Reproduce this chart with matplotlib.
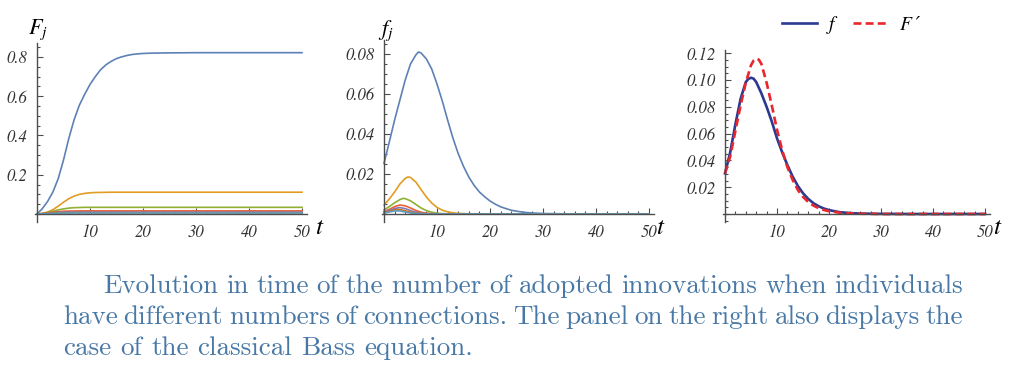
import matplotlib
matplotlib.use("Agg")
import matplotlib.pyplot as plt
from matplotlib.ticker import MultipleLocator
from matplotlib.lines import Line2D

plt.rcParams["mathtext.fontset"] = "stix"

W, H = 1024, 388

# ----------------------------------------------------------------------------- data
# left panel: F_j(t)
T_F1 = [0, 1, 2, 3, 4, 5, 6, 7, 8, 9, 10, 11, 12, 13, 14, 15, 16, 17, 18, 19, 20, 22, 25, 30, 40, 50]
F1 = [0, 0.027, 0.064, 0.112, 0.18, 0.275, 0.385, 0.48, 0.555, 0.61, 0.66, 0.70, 0.735, 0.76, 0.778,
      0.792, 0.801, 0.808, 0.813, 0.816, 0.818, 0.820, 0.821, 0.822, 0.822, 0.822]
T_F2 = [0, 1, 2, 3, 4, 5, 6, 7, 8, 9, 10, 11, 12, 14, 17, 20, 30, 50]
F2 = [0, 0.003, 0.010, 0.022, 0.040, 0.060, 0.078, 0.091, 0.100, 0.105, 0.108, 0.1095, 0.110,
      0.111, 0.111, 0.111, 0.111, 0.111]
T_F3 = [0, 1, 2, 3, 4, 5, 6, 7, 8, 9, 12, 20, 50]
F3 = [0, 0.002, 0.007, 0.014, 0.021, 0.026, 0.030, 0.032, 0.033, 0.034, 0.034, 0.034, 0.034]
T_F4 = [0, 1, 2, 3, 4, 5, 6, 7, 8, 50]
F4 = [0, 0.002, 0.005, 0.009, 0.012, 0.014, 0.015, 0.0155, 0.016, 0.016]
T_F5 = [0, 1, 2, 3, 4, 5, 6, 7, 50]
F5 = [0, 0.001, 0.003, 0.006, 0.008, 0.009, 0.0095, 0.010, 0.010]
T_F6 = [0, 1, 2, 3, 4, 5, 6, 7, 50]
F6 = [0, 0.001, 0.0025, 0.004, 0.0055, 0.0063, 0.0068, 0.007, 0.007]
T_F7 = [0, 1, 2, 3, 4, 5, 6, 7, 50]
F7 = [0, 0.0007, 0.0018, 0.003, 0.004, 0.0045, 0.0048, 0.005, 0.005]

# middle panel: f_j(t)
T_f1 = [0, 1, 2, 3, 4, 5, 6, 6.5, 7, 8, 9, 10, 11, 12, 13, 14, 15, 16, 17, 18, 19, 20, 21, 22,
        23, 24, 25, 26, 27, 28, 30, 35, 40, 50]
f1 = [0.0253, 0.036, 0.047, 0.057, 0.067, 0.075, 0.0795, 0.0810, 0.0805, 0.0775, 0.0725, 0.065,
      0.0565, 0.047, 0.038, 0.0302, 0.0238, 0.0185, 0.0143, 0.011, 0.0086, 0.0065, 0.0049, 0.0036,
      0.0027, 0.0019, 0.0014, 0.0010, 0.0007, 0.0005, 0.00025, 0.00005, 0.0, 0.0]
T_f2 = [0, 1, 2, 3, 4, 4.5, 5, 6, 7, 8, 9, 10, 11, 12, 13, 14, 16, 20, 50]
f2 = [0.0045, 0.0075, 0.011, 0.0150, 0.0178, 0.0185, 0.0183, 0.016, 0.0122, 0.0085, 0.0055,
      0.0033, 0.0019, 0.0011, 0.0006, 0.0003, 0.0001, 0.0, 0.0]
T_f3 = [0, 1, 2, 3, 3.6, 4, 5, 6, 7, 8, 9, 10, 11, 13, 50]
f3 = [0.002, 0.0037, 0.0056, 0.0072, 0.0078, 0.0077, 0.0066, 0.0048, 0.003, 0.0017, 0.0009,
      0.0004, 0.0002, 0.0, 0.0]
T_f4 = [0, 1, 2, 3, 4, 5, 6, 7, 8, 9, 11, 50]
f4 = [0.0012, 0.0023, 0.0037, 0.0045, 0.0041, 0.0030, 0.0018, 0.0009, 0.0004, 0.0002, 0.0, 0.0]
T_f5 = [0, 1, 2, 3, 4, 5, 6, 7, 8, 10, 50]
f5 = [0.0009, 0.0017, 0.0028, 0.0032, 0.0027, 0.0017, 0.0009, 0.0004, 0.0002, 0.0, 0.0]
T_f6 = [0, 1, 2, 3, 4, 5, 6, 7, 9, 50]
f6 = [0.0007, 0.0013, 0.0021, 0.0022, 0.0016, 0.0009, 0.0004, 0.0002, 0.0, 0.0]
T_f7 = [0, 1, 2, 3, 4, 5, 6, 8, 50]
f7 = [0.0005, 0.001, 0.0015, 0.0015, 0.001, 0.0005, 0.0002, 0.0, 0.0]

# right panel: f vs F' (classical Bass)
T_BASS_f = [0, 1, 2, 3, 4, 4.5, 5, 5.5, 6, 7, 8, 9, 10, 11, 12, 13, 14, 15, 16, 17, 18, 19, 20,
            22, 24, 26, 30, 35, 50]
BASS_f = [0.0303, 0.046, 0.067, 0.086, 0.0985, 0.1008, 0.1017, 0.1010, 0.0985, 0.090, 0.080,
          0.069, 0.0565, 0.046, 0.0365, 0.028, 0.021, 0.0155, 0.0113, 0.0081, 0.0058, 0.0041,
          0.0029, 0.0014, 0.0007, 0.0003, 0.0001, 0.0, 0.0]
T_BASS_dF = [0, 1, 2, 3, 4, 5, 5.5, 6, 6.5, 7, 8, 9, 10, 11, 12, 13, 14, 15, 16, 17, 18, 19, 20,
             22, 24, 26, 30, 50]
BASS_dF = [0.0303, 0.043, 0.062, 0.081, 0.098, 0.111, 0.1145, 0.116, 0.1152, 0.112, 0.098, 0.081,
           0.063, 0.0475, 0.035, 0.0255, 0.018, 0.0128, 0.009, 0.0063, 0.0044, 0.003, 0.0021,
           0.001, 0.0005, 0.0002, 0.0, 0.0]

X_TICKS = [10, 20, 30, 40, 50]
Y_TICKS_1 = [0.2, 0.4, 0.6, 0.8]
Y_TICKS_2 = [0.02, 0.04, 0.06, 0.08]
Y_TICKS_3 = [0.02, 0.04, 0.06, 0.08, 0.10, 0.12]

CAPTION = ["Evolution in time of the number of adopted innovations when individuals",
           "have different numbers of connections. The panel on the right also displays the",
           "case of the classical Bass equation."]

# Mathematica default palette
COLS = ["#5E81B5", "#E19C24", "#8FB032", "#EB6235", "#8778B3", "#C56E1A", "#5D9EC7"]
AXC = "#4d4d4d"
TICK_FONT = dict(family="STIXGeneral", style="italic", size=12, color="#333333")

fig = plt.figure(figsize=(W / 100, H / 100), dpi=100)


def add_axes_px(t0, ppu_x, y0, ppu_y, xlim, ylim):
    left = t0 + xlim[0] * ppu_x
    right = t0 + xlim[1] * ppu_x
    top = y0 - ylim[1] * ppu_y
    bottom = y0 - ylim[0] * ppu_y
    ax = fig.add_axes([left / W, 1 - bottom / H, (right - left) / W, (bottom - top) / H])
    ax.set_xlim(*xlim)
    ax.set_ylim(*ylim)
    ax.patch.set_alpha(0)
    for s in ("top", "right"):
        ax.spines[s].set_visible(False)
    for s in ("left", "bottom"):
        ax.spines[s].set_position(("data", 0))
        ax.spines[s].set_color(AXC)
        ax.spines[s].set_linewidth(1.0)
    ax.tick_params(which="both", direction="in", color=AXC, width=0.8)
    ax.tick_params(which="major", length=4.5)
    ax.tick_params(which="minor", length=2.5)
    ax.tick_params(axis="x", pad=7)
    ax.tick_params(axis="y", pad=7)
    ax.set_xticks(X_TICKS, [str(v) for v in X_TICKS], **TICK_FONT)
    ax.xaxis.set_minor_locator(MultipleLocator(2))
    return ax


# ----------------------------------------------------------------------------- left panel
ax1 = add_axes_px(37, 5.3, 214, 196.25, (-0.3, 51), (-0.04, 0.87))
for (tt, yy), c in zip([(T_F1, F1), (T_F2, F2), (T_F3, F3), (T_F4, F4), (T_F5, F5),
                        (T_F6, F6), (T_F7, F7)], COLS):
    ax1.plot(tt, yy, color=c, lw=1.2, clip_on=False)
ax1.set_yticks(Y_TICKS_1, ["0.2", "0.4", "0.6", "0.8"], **TICK_FONT)
ax1.yaxis.set_minor_locator(MultipleLocator(0.05))
fig.text(28 / W, 1 - 30 / H, r"$F_j$", fontsize=16, ha="left", va="center")
fig.text(320 / W, 1 - 227 / H, r"$t$", fontsize=18, ha="center", va="center")

# ----------------------------------------------------------------------------- middle panel
ax2 = add_axes_px(384, 5.3, 214, 2000, (-0.3, 51), (-0.004, 0.087))
for (tt, yy), c in zip([(T_f1, f1), (T_f2, f2), (T_f3, f3), (T_f4, f4), (T_f5, f5),
                        (T_f6, f6), (T_f7, f7)], COLS):
    ax2.plot(tt, yy, color=c, lw=1.2, clip_on=False)
ax2.set_yticks(Y_TICKS_2, ["0.02", "0.04", "0.06", "0.08"], **TICK_FONT)
ax2.yaxis.set_minor_locator(MultipleLocator(0.005))
fig.text(378 / W, 1 - 31 / H, r"$f_j$", fontsize=16, ha="left", va="center")
fig.text(661 / W, 1 - 227 / H, r"$t$", fontsize=18, ha="center", va="center")

# ----------------------------------------------------------------------------- right panel
ax3 = add_axes_px(725, 5.2, 214, 1340, (-0.3, 51), (-0.006, 0.1224))
ax3.plot(T_BASS_f, BASS_f, color="#2B3990", lw=1.9, clip_on=False)
ax3.plot(T_BASS_dF, BASS_dF, color="#E8262B", lw=1.9, ls=(0, (3, 1.6)), clip_on=False)
ax3.set_yticks(Y_TICKS_3, ["0.02", "0.04", "0.06", "0.08", "0.10", "0.12"], **TICK_FONT)
ax3.yaxis.set_minor_locator(MultipleLocator(0.005))
fig.text(998 / W, 1 - 227 / H, r"$t$", fontsize=18, ha="center", va="center")

handles = [Line2D([], [], color="#2B3990", lw=1.9),
           Line2D([], [], color="#E8262B", lw=1.9, ls=(0, (3, 1.6)))]
fig.legend(handles, ["f", "F\u2009\u2032"], loc="center", bbox_to_anchor=(851 / W, 1 - 25 / H),
           ncol=2, frameon=False, handlelength=1.8, columnspacing=1.0, handletextpad=0.6,
           prop=dict(family=["STIXGeneral", "DejaVu Serif"], style="italic", size=14))

# ----------------------------------------------------------------------------- caption (justified)
CAP_FONT = dict(family="cmr10", size=19.5, color="#4878a6")
renderer = fig.canvas.get_renderer()


def word_width(w):
    t = fig.text(0, 0, w, **CAP_FONT)
    wd = t.get_window_extent(renderer).width
    t.remove()
    return wd


lines_geo = [(103, 963, 293, True), (63, 963, 324, True), (63, None, 355, False)]
space = word_width("a a") - word_width("aa")
for line, (x0, x1, yb, justify) in zip(CAPTION, lines_geo):
    words = line.split()
    widths = [word_width(w) for w in words]
    gap = (x1 - x0 - sum(widths)) / (len(words) - 1) if justify else space
    x = x0
    for w, wd in zip(words, widths):
        fig.text(x / W, 1 - yb / H, w, ha="left", va="baseline", **CAP_FONT)
        x += wd + gap

fig.savefig("out.png", dpi=100)
